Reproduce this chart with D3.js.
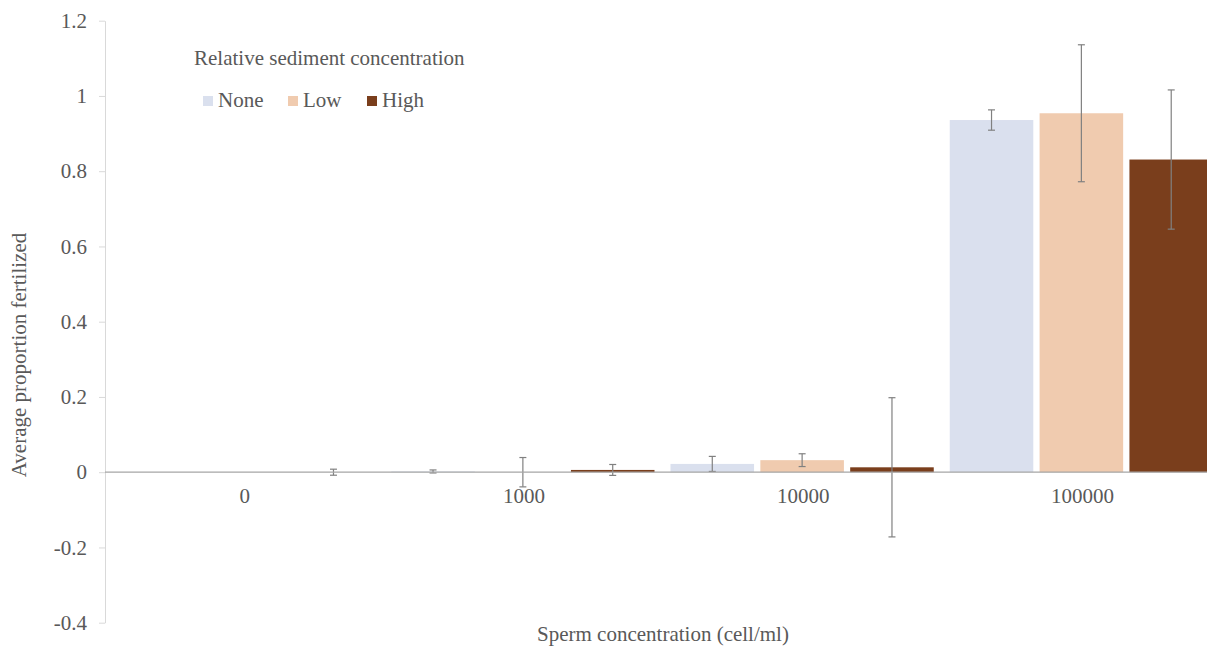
<!DOCTYPE html>
<html><head><meta charset="utf-8">
<script src="https://cdn.jsdelivr.net/npm/d3@7"></script>
<style>body{margin:0;background:#fff;}svg{display:block;} text{font-family:'Liberation Serif','DejaVu Serif',serif !important;}</style>
</head><body><svg id="c" width="1207" height="647"></svg>
<script>
const categories = ["0","1000","10000","100000"];
const seriesNames = ["None","Low","High"];
const noneVals = [0, 0.002, 0.022, 0.936];
const lowVals  = [0, 0, 0.032, 0.954];
const highVals = [0, 0.006, 0.013, 0.831];
const noneErr = [0, 0.004, 0.020, 0.027];
const lowErr  = [0, 0.039, 0.017, 0.182];
const highErr = [0.008, 0.0145, 0.185, 0.185];
const yTicks = [-0.4,-0.2,0,0.2,0.4,0.6,0.8,1,1.2];
const colors = ["#DAE0EE","#F0CBAF","#7A3E1C"];

const vals = [noneVals, lowVals, highVals];
const errs = [noneErr, lowErr, highErr];
const data = categories.map((c,i)=>({cat:c, items: seriesNames.map((s,j)=>({s, v: vals[j][i], e: errs[j][i], k:j}))}));

const FONT = "Liberation Serif";
const FS = 21;
const svg = d3.select("#c");
const pLeft = 104, pRight = 1221, pTop = 20.7, pBottom = 622.7;
const x0 = d3.scaleBand().domain(categories).range([pLeft,pRight]).padding(0);
const bw = x0.bandwidth();
const x1 = d3.scaleBand().domain(seriesNames).range([8, bw-8]).paddingInner(0.07);
const y = d3.scaleLinear().domain([-0.4,1.2]).range([pBottom, pTop]);
const txt = "#595959";

// y axis
const ya = svg.append("g").attr("transform",`translate(${pLeft+1},0)`)
  .call(d3.axisLeft(y).tickValues(yTicks).tickSize(6).tickSizeOuter(0).tickFormat(d=>String(+d.toFixed(1))));
ya.attr("font-family",FONT);
ya.select(".domain").attr("stroke","#d9d9d9");
ya.selectAll(".tick line").attr("stroke","#d9d9d9");
ya.selectAll(".tick text").attr("fill",txt).attr("font-size",FS).attr("font-family",FONT).attr("x",-18);

// bars
const g = svg.append("g").selectAll("g").data(data).join("g").attr("transform",d=>`translate(${x0(d.cat)},0)`);
g.selectAll("rect").data(d=>d.items).join("rect")
  .attr("x",d=>x1(d.s)).attr("width",x1.bandwidth())
  .attr("y",d=>y(Math.max(0,d.v))).attr("height",d=>Math.abs(y(d.v)-y(0)))
  .attr("fill",d=>colors[d.k]);

// zero line
svg.append("line").attr("x1",pLeft+1).attr("x2",pRight).attr("y1",y(0)).attr("y2",y(0)).attr("stroke","#a6a6a6").attr("stroke-width",1.2);

// error bars
const eb = g.selectAll("g.eb").data(d=>d.items.filter(it=>it.e>0)).join("g").attr("class","eb")
  .attr("transform",d=>`translate(${x1(d.s)+x1.bandwidth()/2},0)`);
eb.append("line").attr("y1",d=>y(d.v+d.e)).attr("y2",d=>y(d.v-d.e)).attr("stroke","#808080").attr("stroke-width",1.2);
eb.append("line").attr("x1",-3.5).attr("x2",3.5).attr("y1",d=>y(d.v+d.e)).attr("y2",d=>y(d.v+d.e)).attr("stroke","#808080").attr("stroke-width",1.2);
eb.append("line").attr("x1",-3.5).attr("x2",3.5).attr("y1",d=>y(d.v-d.e)).attr("y2",d=>y(d.v-d.e)).attr("stroke","#808080").attr("stroke-width",1.2);

// category labels
svg.append("g").selectAll("text").data(categories).join("text")
  .attr("x",d=>x0(d)+bw/2+1).attr("y",y(0)+31).attr("text-anchor","middle")
  .attr("fill",txt).attr("font-size",FS).attr("font-family",FONT).text(d=>d);

// axis titles
svg.append("text").attr("x",663).attr("y",641).attr("text-anchor","middle").attr("fill",txt).attr("font-size",FS).attr("font-family",FONT).text("Sperm concentration (cell/ml)");
svg.append("text").attr("transform","translate(26,355) rotate(-90)").attr("text-anchor","middle").attr("fill",txt).attr("font-size",FS).attr("font-family",FONT).text("Average proportion fertilized");

// legend
const lg = svg.append("g");
lg.append("text").attr("x",194).attr("y",65).attr("fill",txt).attr("font-size",FS).attr("font-family",FONT).text("Relative sediment concentration");
const legX = [203, 288, 367];
const li = lg.selectAll("g.li").data(seriesNames).join("g").attr("class","li").attr("transform",(d,i)=>`translate(${legX[i]},101)`);
li.append("rect").attr("x",0).attr("y",-5).attr("width",10).attr("height",10).attr("fill",(d,i)=>colors[i]);
li.append("text").attr("x",15).attr("y",6).attr("fill",txt).attr("font-size",FS).attr("font-family",FONT).text(d=>d);
</script></body></html>
